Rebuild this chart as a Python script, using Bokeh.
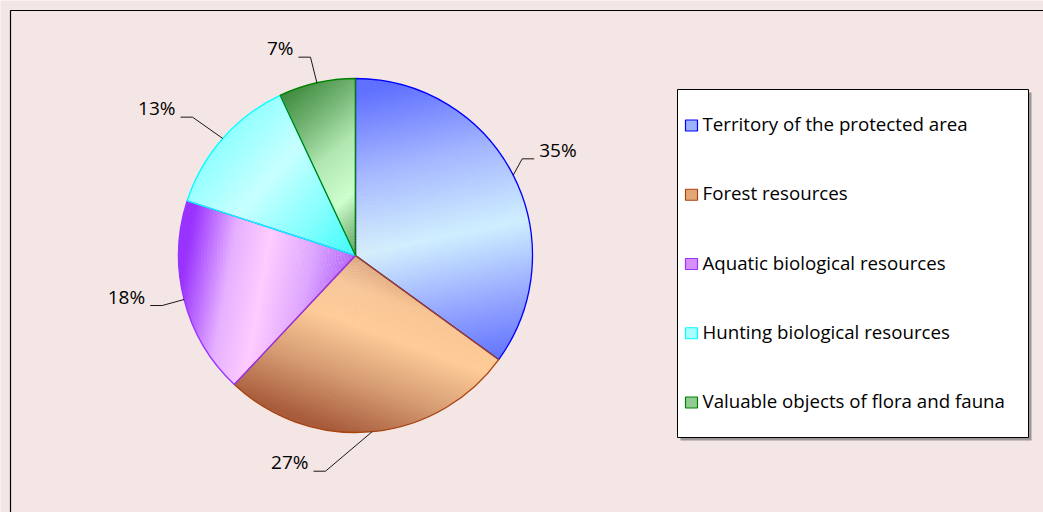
import numpy as np
from bokeh.plotting import figure
from bokeh.models import Range1d, ColumnDataSource
from bokeh.core.properties import value
from bokeh.embed import file_html
from bokeh.resources import INLINE

# ---------------- data ----------------
categories = [
    "Territory of the protected area",
    "Forest resources",
    "Aquatic biological resources",
    "Hunting biological resources",
    "Valuable objects of flora and fauna",
]
shares = [35, 27, 18, 13, 7]
labels = [f"{v}%" for v in shares]

# ---------------- styles ----------------
BG = "#F5E6E6"
FONT = "Open Sans"
edge_colors = ["#0000FF", "#A8440E", "#9933FF", "#00FFFF", "#008000"]
swatch_colors = ["#9DB2FF", "#E3A777", "#D890FF", "#A8FFFF", "#92CC92"]
# gradient: (point p0, band angle deg, stops over signed distance)
gradients = [
    ((0.0, 0.0), 12, [(-0.8, "#5A6CFF"), (-0.45, "#8FA0FF"), (0.0, "#CFEFFF"), (0.45, "#A4B6FF"), (0.9, "#6070FF")]),
    ((0.3, -0.5), -20, [(-0.6, "#A85C3C"), (-0.3, "#D59B72"), (0.0, "#FFCC99"), (0.2, "#F8C594"), (0.45, "#C98D66")]),
    ((-0.5, 0.0), 80, [(-0.5, "#A850FF"), (-0.25, "#DDA5FF"), (0.0, "#FFCCFF"), (0.2, "#E6B0FF"), (0.45, "#9933FF")]),
    ((-0.488, 0.430), 48.6, [(-0.65, "#20FFFF"), (-0.35, "#80FFFF"), (0.0, "#C8FFFF"), (0.35, "#90FFFF")]),
    ((0.0, 0.3), 40, [(-0.25, "#3E8E3E"), (-0.08, "#8CCC8C"), (0.05, "#CCFFCC"), (0.3, "#B0E6B0"), (0.5, "#78B878"), (0.75, "#3A863A")]),
]
# label layout: offset of elbow from rim point (px), side of horizontal tick
label_offsets = [(9, 16.3), (-46.7, -39.5), (-21.9, -6), (-30.2, 21.3), (-6.4, 25.6)]
label_sides = [1, -1, -1, -1, -1]

W, H = 1043, 512
CX, CY, R = 355, 257, 177


def hex2rgb(h):
    h = h.lstrip("#")
    return np.array([int(h[i:i + 2], 16) for i in (0, 2, 4)], dtype=float)


def grad_color(stops, s):
    pos = [a for a, _ in stops]
    cols = [hex2rgb(c) for _, c in stops]
    if s <= pos[0]:
        c = cols[0]
    elif s >= pos[-1]:
        c = cols[-1]
    else:
        for k in range(len(pos) - 1):
            if pos[k] <= s <= pos[k + 1]:
                t = (s - pos[k]) / (pos[k + 1] - pos[k])
                c = cols[k] * (1 - t) + cols[k + 1] * t
                break
    return "#%02x%02x%02x" % tuple(int(round(v)) for v in c)


total = float(sum(shares))
cum = np.cumsum([0] + shares)
starts_deg = 90 - 360 * cum[:-1] / total
ends_deg = 90 - 360 * cum[1:] / total

p = figure(width=W, height=H, x_range=Range1d(0, W), y_range=Range1d(0, H),
           output_backend="svg", toolbar_location=None, min_border=0,
           background_fill_color=BG, border_fill_color=BG, outline_line_color=None,
           x_axis_type=None, y_axis_type=None)
p.grid.visible = False

# outer frame of chart area
p.quad(left=[10], right=[W + 50], top=[H - 10], bottom=[-50],
       fill_color=None, line_color="#000000", line_width=1.2)

# gradient cells (slightly overlapping to avoid seams)
cx_l, cy_l, rin_l, rout_l, as_l, ae_l, col_l = [], [], [], [], [], [], []
n_rad = 56
for i in range(len(shares)):
    a_hi, a_lo = starts_deg[i], ends_deg[i]
    n_ang = max(4, int(np.ceil((a_hi - a_lo) / 1.0)))
    angs = np.linspace(a_lo, a_hi, n_ang + 1)
    rads = np.linspace(0, 1, n_rad + 1)
    (p0x, p0y), th, stops = gradients[i]
    nx, ny = -np.sin(np.radians(th)), np.cos(np.radians(th))
    for j in range(n_rad):
        rm = 0.5 * (rads[j] + rads[j + 1])
        ro = R * rads[j + 1] + (0.7 if j < n_rad - 1 else 0)
        for k in range(n_ang):
            am = np.radians(0.5 * (angs[k] + angs[k + 1]))
            px, py = rm * np.cos(am), rm * np.sin(am)
            s = nx * (px - p0x) + ny * (py - p0y)
            ea = angs[k + 1] + (0.35 if k < n_ang - 1 else 0)
            cx_l.append(CX); cy_l.append(CY)
            rin_l.append(R * rads[j]); rout_l.append(ro)
            as_l.append(np.radians(angs[k])); ae_l.append(np.radians(ea))
            col_l.append(grad_color(stops, s))

cells = ColumnDataSource(dict(x=cx_l, y=cy_l, ri=rin_l, ro=rout_l, sa=as_l, ea=ae_l, c=col_l))
p.annular_wedge(x="x", y="y", inner_radius="ri", outer_radius="ro", start_angle="sa", end_angle="ea",
                fill_color="c", line_color=None, source=cells)

# slice outlines
p.wedge(x=[CX] * 5, y=[CY] * 5, radius=R, start_angle=np.radians(ends_deg), end_angle=np.radians(starts_deg),
        fill_color=None, line_color=edge_colors, line_width=1.3)

# leader lines and percent labels
mids = np.radians(0.5 * (starts_deg + ends_deg))
lx, ly = [], []
tl_x, tl_y, tl_t, tr_x, tr_y, tr_t = [], [], [], [], [], []
for i in range(len(shares)):
    rx, ry = CX + R * np.cos(mids[i]), CY + R * np.sin(mids[i])
    ex, ey = rx + label_offsets[i][0], ry + label_offsets[i][1]
    hx = ex + label_sides[i] * 12
    lx.append([rx, ex, hx]); ly.append([ry, ey, ey])
    if label_sides[i] > 0:
        tl_x.append(hx + 5); tl_y.append(ey + 9); tl_t.append(labels[i])
    else:
        tr_x.append(hx - 5); tr_y.append(ey + 9); tr_t.append(labels[i])
p.multi_line(xs=lx, ys=ly, line_color="#000000", line_width=0.9)
p.text(x=tl_x, y=tl_y, text=tl_t, text_font=value(FONT), text_font_size=value("19px"),
       text_color="#000000", text_align="left", text_baseline="middle")
p.text(x=tr_x, y=tr_y, text=tr_t, text_font=value(FONT), text_font_size=value("19px"),
       text_color="#000000", text_align="right", text_baseline="middle")

# legend
LL, LR, LT, LB = 677, 1028, 423, 75
p.quad(left=[LL + 3], right=[LR + 3], top=[LT - 3], bottom=[LB - 3], fill_color="#606060", fill_alpha=0.6, line_color=None)
p.quad(left=[LL], right=[LR], top=[LT], bottom=[LB], fill_color="#FFFFFF", line_color="#000000", line_width=1)
rows = 387 - 69.25 * np.arange(len(categories))
p.quad(left=[685] * 5, right=[697] * 5, top=rows + 5.5, bottom=rows - 5.5,
       fill_color=swatch_colors, line_color=edge_colors, line_width=1.2)
p.text(x=[702] * 5, y=rows + 2, text=categories, text_font=value(FONT), text_font_size=value("18.7px"),
       text_color="#000000", text_align="left", text_baseline="middle")

open("out.html", "w").write(file_html(p, INLINE))
